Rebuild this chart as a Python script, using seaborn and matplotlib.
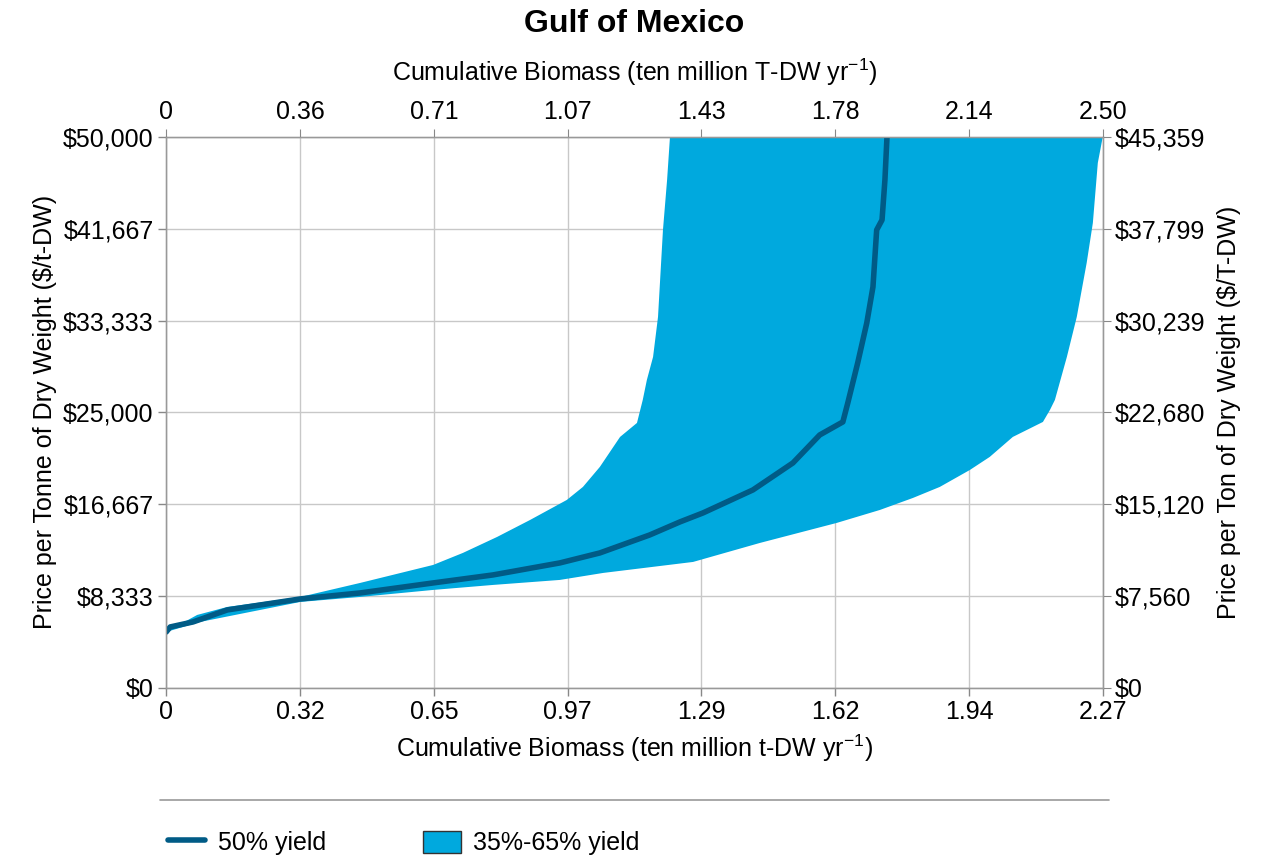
import numpy as np
import pandas as pd
import matplotlib.pyplot as plt
import matplotlib.lines as mlines
import matplotlib.patches as mpatches
import seaborn as sns

# Data (biomass in ten million t-DW/yr, price in $/t-DW)
mid_x = [0.0, 0.0097, 0.065, 0.148, 0.325, 0.470, 0.647, 0.792, 0.954, 1.051,
         1.172, 1.245, 1.301, 1.422, 1.519, 1.584, 1.640, 1.652, 1.676, 1.698,
         1.713, 1.722, 1.735, 1.742, 1.747]
mid_y = [5081, 5535, 5989, 7078, 8076, 8620, 9528, 10254, 11343, 12250,
         13883, 15063, 15880, 17967, 20417, 22957, 24137, 25861, 29491, 33120,
         36387, 41559, 42467, 46096, 50000]

low_x = [0.0, 0.075, 0.148, 0.325, 0.470, 0.647, 0.719, 0.802, 0.882, 0.971,
         1.010, 1.051, 1.100, 1.141, 1.155, 1.165, 1.180, 1.192, 1.204, 1.214,
         1.221]
low_y = [5081, 6624, 7350, 8257, 9528, 11161, 12250, 13702, 15244, 17059,
         18239, 20054, 22776, 24046, 26133, 27948, 30035, 33665, 41559, 46096,
         50000]

high_x = [0.0, 0.082, 0.325, 0.470, 0.647, 0.792, 0.954, 1.059, 1.277, 1.439,
          1.625, 1.730, 1.810, 1.875, 1.948, 1.996, 2.052, 2.125, 2.142, 2.154,
          2.183, 2.207, 2.231, 2.246, 2.258, 2.270]
high_y = [5081, 5989, 7804, 8257, 8893, 9346, 9800, 10435, 11433, 13157,
          14972, 16152, 17241, 18239, 19781, 20961, 22776, 24137, 25226, 26133,
          30035, 33665, 38565, 42194, 47638, 50000]

bottom_ticks = ["0", "0.32", "0.65", "0.97", "1.29", "1.62", "1.94", "2.27"]
top_ticks = ["0", "0.36", "0.71", "1.07", "1.43", "1.78", "2.14", "2.50"]
left_ticks = ["\\$0", "\\$8,333", "\\$16,667", "\\$25,000", "\\$33,333", "\\$41,667", "\\$50,000"]
right_ticks = ["\\$0", "\\$7,560", "\\$15,120", "\\$22,680", "\\$30,239", "\\$37,799", "\\$45,359"]

band_color = "#00a9de"
line_color = "#005b86"
grid_color = "#c8c8c8"

sns.set_style("white")
plt.rcParams['font.family'] = ['Liberation Sans', 'DejaVu Sans']
plt.rcParams['mathtext.fontset'] = 'custom'
plt.rcParams['mathtext.rm'] = 'Liberation Sans'
plt.rcParams['text.color'] = 'black'
plt.rcParams['axes.labelcolor'] = 'black'

fig = plt.figure(figsize=(12.69, 8.61), dpi=100)
ax = fig.add_axes([0.131, 0.201, 0.738, 0.640])

# band: 35% curve up, 65% curve back down
poly_x = list(low_x) + list(high_x[::-1])
poly_y = list(low_y) + list(high_y[::-1])
ax.fill(poly_x, poly_y, color=band_color, lw=0, zorder=2)

mid = pd.DataFrame({"x": mid_x, "y": mid_y})
sns.lineplot(data=mid, x="x", y="y", ax=ax, color=line_color, lw=4,
             sort=False, zorder=3)

xmax, ymax = 2.27, 50000
ax.set_xlim(0, xmax)
ax.set_ylim(0, ymax)
ax.set_xticks(np.linspace(0, xmax, 8))
ax.set_xticklabels(bottom_ticks)
ax.set_yticks(np.linspace(0, ymax, 7))
ax.set_yticklabels(left_ticks)
ax.grid(True, color=grid_color, lw=1, zorder=0)
ax.set_axisbelow(True)

fs = 18
ax.tick_params(axis="both", labelsize=fs, colors="#888888", labelcolor="black",
               length=6, width=1, direction="out", pad=3)
for s in ax.spines.values():
    s.set_color("#999999")
    s.set_linewidth(1)

ax.set_xlabel("Cumulative Biomass (ten million t-DW yr$^{-1}$)", fontsize=fs, labelpad=6)
ax.set_ylabel("Price per Tonne of Dry Weight (\\$/t-DW)", fontsize=fs, labelpad=4)

axt = ax.twiny()
axt.set_xlim(0, 2.50)
axt.set_xticks(np.linspace(0, 2.50, 8))
axt.set_xticklabels(top_ticks)
axt.tick_params(axis="x", labelsize=fs, colors="#888888", labelcolor="black", length=6, pad=3)
axt.set_xlabel("Cumulative Biomass (ten million T-DW yr$^{-1}$)", fontsize=fs, labelpad=14)

axr = ax.twinx()
axr.set_ylim(0, 45359)
axr.set_yticks(np.linspace(0, 45359, 7))
axr.set_yticklabels(right_ticks)
axr.tick_params(axis="y", labelsize=fs, colors="#888888", labelcolor="black", length=6, pad=3)
axr.set_ylabel("Price per Ton of Dry Weight (\\$/T-DW)", fontsize=fs, labelpad=8)
for a in (axt, axr):
    for s in a.spines.values():
        s.set_color("#999999")

fig.text(0.5, 0.99, "Gulf of Mexico", ha="center", va="top", fontsize=23, fontweight="bold")

# legend separator and legend
fig.add_artist(mlines.Line2D([0.126, 0.874], [0.071, 0.071], color="#999999", lw=1.2))
handles = [mlines.Line2D([], [], color=line_color, lw=4),
           mpatches.Patch(facecolor=band_color, edgecolor="#333333", lw=1)]
fig.legend(handles, ["50% yield", "35%-65% yield"], loc="center left",
           bbox_to_anchor=(0.132, 0.021), ncol=2, frameon=False, fontsize=fs,
           handlelength=1.5, handleheight=1.0, columnspacing=3.9, handletextpad=0.5,
           borderpad=0, borderaxespad=0)

fig.savefig("out.png", dpi=100)
